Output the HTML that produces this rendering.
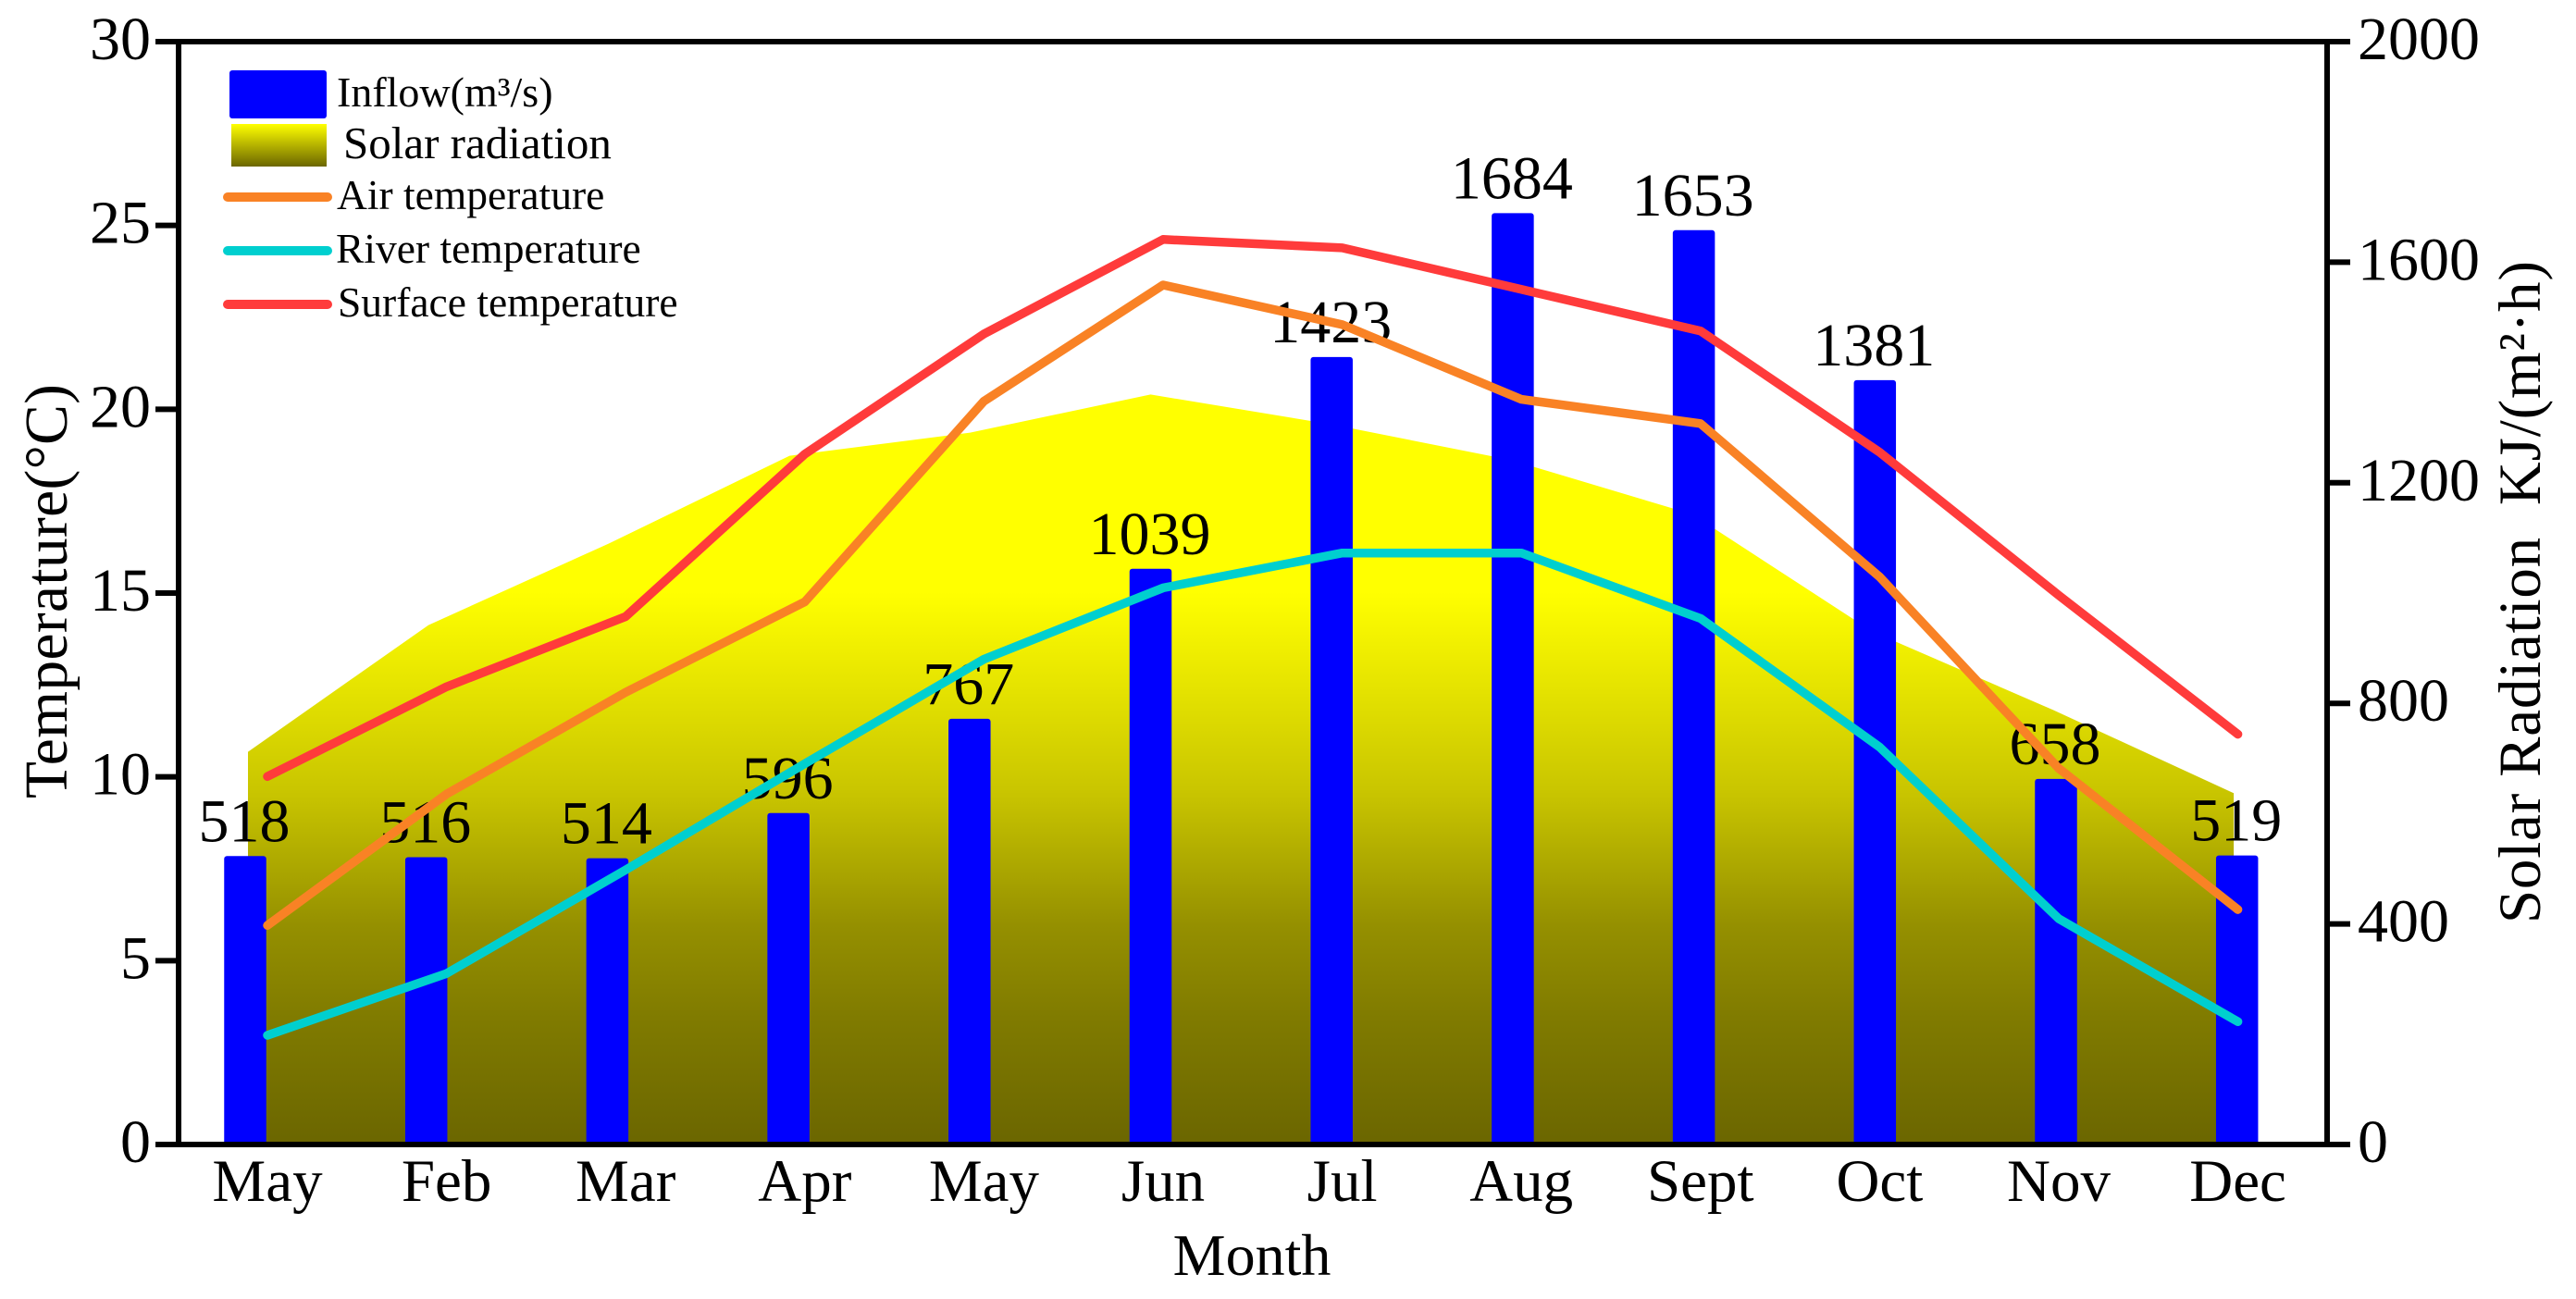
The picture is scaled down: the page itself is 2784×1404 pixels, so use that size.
<!DOCTYPE html>
<html lang="en">
<head>
<meta charset="utf-8">
<title>Monthly inflow, solar radiation and temperature</title>
<style>
html,body{margin:0;padding:0;background:#fff;width:2784px;height:1404px;overflow:hidden}
svg{display:block}
text{font-family:"Liberation Serif","DejaVu Serif",serif;fill:#000}
</style>
</head>
<body>
<svg id="chart" xmlns="http://www.w3.org/2000/svg" width="2784" height="1404" viewBox="0 0 2784 1404">
  <defs>
    <linearGradient id="solarGrad" gradientUnits="userSpaceOnUse" x1="0" y1="640" x2="0" y2="1237">
      <stop offset="0" stop-color="#ffff00"/>
      <stop offset="0.368" stop-color="#c8c400"/>
      <stop offset="0.603" stop-color="#959000"/>
      <stop offset="0.77" stop-color="#807b00"/>
      <stop offset="1" stop-color="#6b6600"/>
    </linearGradient>
    <linearGradient id="legendGrad" x1="0" y1="0" x2="0" y2="1">
      <stop offset="0" stop-color="#ffff00"/>
      <stop offset="1" stop-color="#6b6600"/>
    </linearGradient>
  </defs>
  <g id="plot"></g>
  <g id="axes"></g>
  <g id="legend">
    <rect x="248" y="76" width="105" height="52" rx="3" fill="#0000ff"/>
    <text x="364" y="115" font-size="46">Inflow(m³/s)</text>
    <rect x="250" y="134" width="103" height="46" fill="url(#legendGrad)"/>
    <text x="371" y="171" font-size="49">Solar radiation</text>
    <line x1="246" y1="213" x2="354" y2="213" stroke="#f98225" stroke-width="10" stroke-linecap="round"/>
    <text x="364" y="226" font-size="45.5">Air temperature</text>
    <line x1="246" y1="271" x2="354" y2="271" stroke="#00cfcf" stroke-width="10" stroke-linecap="round"/>
    <text x="363" y="284" font-size="45.5">River temperature</text>
    <line x1="246" y1="329" x2="354" y2="329" stroke="#ff3b3b" stroke-width="10" stroke-linecap="round"/>
    <text x="365" y="342" font-size="45.5">Surface temperature</text>
  </g>
  <text x="1353" y="1378" font-size="64" text-anchor="middle">Month</text>
  <text transform="translate(72 863) rotate(-90)" font-size="65.5" textLength="448">Temperature(°C)</text>
  <text transform="translate(2745 998) rotate(-90)" font-size="65" textLength="716">Solar Radiation&#160;&#160;KJ/(m²·h)</text>
</svg>
<script>
const months = ['May','Feb','Mar','Apr','May','Jun','Jul','Aug','Sept','Oct','Nov','Dec'];
const inflow = [518,516,514,596,767,1039,1423,1684,1653,1381,658,519];
const solarRadiation = [712,942,1090,1249,1291,1360,1306,1241,1143,930,788,637];
const airTemperature = [5.96,9.53,12.30,14.76,20.22,23.38,22.30,20.27,19.61,15.44,10.23,6.39];
const riverTemperature = [2.97,4.65,7.47,10.36,13.2,15.14,16.09,16.09,14.31,10.81,6.14,3.34];
const surfaceTemperature = [10.01,12.45,14.36,18.78,22.05,24.62,24.39,23.26,22.13,18.83,14.94,11.16];
const tempTicks = [0,5,10,15,20,25,30];
const radiationTicks = [0,400,800,1200,1600,2000];

const SVGNS = 'http://www.w3.org/2000/svg';
const AX_TOP = 45, AX_BOTTOM = 1237, AX_LEFT = 193, AX_RIGHT = 2515;
const TEMP_MAX = 30, RIGHT_MAX = 2000;
const plot = document.getElementById('plot');
const axes = document.getElementById('axes');

function yTemp(v){ return AX_BOTTOM - v / TEMP_MAX * (AX_BOTTOM - AX_TOP); }
function yRight(v){ return AX_BOTTOM - v / RIGHT_MAX * (AX_BOTTOM - AX_TOP); }
function xBar(i){ return 265 + i * 195.7; }
function xLine(i){ return 289 + i * 193.6; }
function xArea(i){ return 268 + i * 195.1; }

function mk(tag, attrs, parent){
  const n = document.createElementNS(SVGNS, tag);
  for (const k in attrs) n.setAttribute(k, attrs[k]);
  parent.appendChild(n);
  return n;
}

/* solar radiation area */
const areaPts = solarRadiation.map((v, i) => xArea(i).toFixed(1) + ',' + yRight(v).toFixed(1));
areaPts.unshift(xArea(0).toFixed(1) + ',' + yRight(0));
areaPts.push(xArea(solarRadiation.length - 1).toFixed(1) + ',' + yRight(0));
const area = mk('polygon', {points: areaPts.join(' '), fill: 'url(#solarGrad)'}, plot);



/* inflow bars and value labels */
const BAR_W = 45.5;
inflow.forEach((v, i) => {
  const top = yRight(v) - 3;
  const bar = mk('rect', {x: xBar(i) - BAR_W / 2, y: top, width: BAR_W, height: AX_BOTTOM + 1 - top, rx: 3, fill: '#0000ff'}, plot);
  
  
});
inflow.forEach((v, i) => {
  const label = mk('text', {x: xBar(i) - 1, y: yRight(v) - 19, 'font-size': 66, 'text-anchor': 'middle'}, plot);
  label.textContent = v;
  
  
});

/* temperature lines */
function pointsOf(values){
  return values.map((v, i) => xLine(i).toFixed(1) + ',' + yTemp(v).toFixed(1)).join(' ');
}
const airLine = mk('polyline', {points: pointsOf(airTemperature), fill: 'none', stroke: '#f98225', 'stroke-width': 9.5, 'stroke-linejoin': 'round', 'stroke-linecap': 'round'}, plot);


const riverLine = mk('polyline', {points: pointsOf(riverTemperature), fill: 'none', stroke: '#00cfcf', 'stroke-width': 9.5, 'stroke-linejoin': 'round', 'stroke-linecap': 'round'}, plot);


const surfaceLine = mk('polyline', {points: pointsOf(surfaceTemperature), fill: 'none', stroke: '#ff3b3b', 'stroke-width': 9.5, 'stroke-linejoin': 'round', 'stroke-linecap': 'round'}, plot);



/* axes frame */
const leftAxis = mk('line', {x1: AX_LEFT, y1: AX_TOP, x2: AX_LEFT, y2: AX_BOTTOM, stroke: '#000', 'stroke-width': 6}, axes);


const rightAxis = mk('line', {x1: AX_RIGHT, y1: AX_TOP, x2: AX_RIGHT, y2: AX_BOTTOM, stroke: '#000', 'stroke-width': 6}, axes);


const bottomAxis = mk('line', {x1: AX_LEFT, y1: AX_BOTTOM, x2: AX_RIGHT, y2: AX_BOTTOM, stroke: '#000', 'stroke-width': 6}, axes);


const topAxis = mk('line', {x1: AX_LEFT, y1: AX_TOP, x2: AX_RIGHT, y2: AX_TOP, stroke: '#000', 'stroke-width': 6}, axes);



/* left ticks */
tempTicks.forEach(v => {
  const y = yTemp(v);
  const tick = mk('line', {x1: 168, y1: y, x2: AX_LEFT, y2: y, stroke: '#000', 'stroke-width': 6}, axes);
  
  
  const label = mk('text', {x: 163, y: y + 19, 'font-size': 66, 'text-anchor': 'end'}, axes);
  label.textContent = v;
  
  
});

/* right ticks */
radiationTicks.forEach(v => {
  const y = yRight(v);
  const tick = mk('line', {x1: AX_RIGHT, y1: y, x2: 2540, y2: y, stroke: '#000', 'stroke-width': 6}, axes);
  
  
  const label = mk('text', {x: 2548, y: y + 19, 'font-size': 66}, axes);
  label.textContent = v;
  
  
});

/* month labels */
months.forEach((m, i) => {
  const label = mk('text', {x: xLine(i), y: 1298, 'font-size': 65, 'text-anchor': 'middle'}, axes);
  label.textContent = m;
  
  
});
</script>
</body>
</html>
